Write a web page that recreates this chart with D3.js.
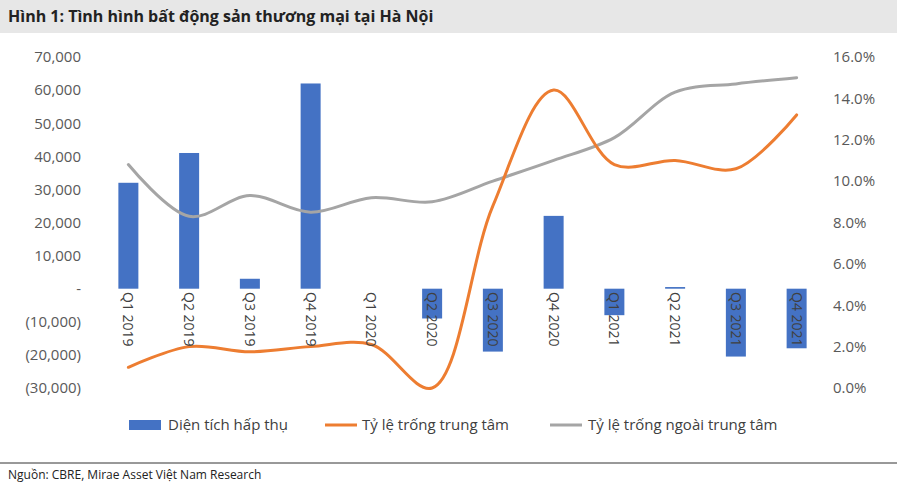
<!DOCTYPE html>
<html><head><meta charset="utf-8">
<script src="https://cdn.jsdelivr.net/npm/d3@7"></script>
<style>body{margin:0;background:#fff;font-family:"Open Sans",sans-serif}</style>
</head><body><svg id="c" width="897" height="487"></svg>
<script>
const categories=["Q1 2019","Q2 2019","Q3 2019","Q4 2019","Q1 2020","Q2 2020","Q3 2020","Q4 2020","Q1 2021","Q2 2021","Q3 2021","Q4 2021"];
const absorbed=[32000,41000,3000,62000,0,-9000,-19000,22000,-8000,500,-20500,-18000];
const centerVacancy=[1.0,2.0,1.75,2.0,2.1,0.0,8.8,14.4,10.8,11.0,10.6,13.2];
const outerVacancy=[10.8,8.3,9.3,8.5,9.2,9.0,10.0,11.0,12.1,14.3,14.7,15.0];
const leftTicks=[-30000,-20000,-10000,0,10000,20000,30000,40000,50000,60000,70000];
const rightTicks=[0,2,4,6,8,10,12,14,16];

const svg=d3.select("#c");
svg.append("rect").attr("x",0).attr("y",0).attr("width",897).attr("height",33).attr("fill","#e7e7e7");
svg.append("text").attr("x",8).attr("y",22).attr("font-size",16).attr("font-weight","bold").attr("fill","#222").text("Hình 1: Tình hình bất động sản thương mại tại Hà Nội");
svg.append("line").attr("x1",0).attr("x2",897).attr("y1",463).attr("y2",463).attr("stroke","#333").attr("stroke-width",1);
svg.append("text").attr("x",8).attr("y",479).attr("font-size",12).attr("fill","#222").text("Nguồn: CBRE, Mirae Asset Việt Nam Research");

const x=d3.scaleBand().domain(categories).range([98,827]);
const yL=d3.scaleLinear().domain([-30000,70000]).range([388,57]);
const yR=d3.scaleLinear().domain([0,16]).range([388,57]);
const fmt=v=>v===0?"-":v<0?"("+d3.format(",")(-v)+")":d3.format(",")(v);

svg.append("g").attr("transform","translate(84,0)").call(d3.axisLeft(yL).tickValues(leftTicks).tickFormat(fmt).tickSize(0))
 .call(g=>{g.select(".domain").remove();g.selectAll("text").attr("font-size",15).attr("fill","#595959").attr("font-family","Open Sans");});
svg.append("g").attr("transform","translate(830,0)").call(d3.axisRight(yR).tickValues(rightTicks).tickFormat(d=>d.toFixed(1)+"%").tickSize(0))
 .call(g=>{g.select(".domain").remove();g.selectAll("text").attr("font-size",15).attr("fill","#595959").attr("font-family","Open Sans");});

const bw=20;
svg.append("g").selectAll("rect").data(absorbed).join("rect")
 .attr("x",(d,i)=>x(categories[i])+x.bandwidth()/2-bw/2)
 .attr("y",d=>yL(Math.max(0,d))).attr("width",bw)
 .attr("height",d=>Math.abs(yL(d)-yL(0))).attr("fill","#4472c4");

const cx=i=>x(categories[i])+x.bandwidth()/2;
const mk=(data,color)=>svg.append("path").datum(data).attr("fill","none").attr("stroke",color).attr("stroke-width",3).attr("stroke-linecap","round")
 .attr("d",d3.line().x((d,i)=>cx(i)).y(d=>yR(d)).curve(d3.curveCatmullRom.alpha(0.5)));
mk(outerVacancy,"#a5a5a5");
mk(centerVacancy,"#ed7d31");

svg.append("g").selectAll("text").data(categories).join("text")
 .attr("transform",(d,i)=>`translate(${cx(i)-5},292) rotate(90)`)
 .attr("font-size",14).attr("fill","#404040").text(d=>d);

const lg=svg.append("g").attr("font-size",15).attr("fill","#404040");
lg.append("rect").attr("x",129).attr("y",420).attr("width",32).attr("height",10).attr("fill","#4472c4");
lg.append("text").attr("x",168).attr("y",430).text("Diện tích hấp thụ");
lg.append("line").attr("x1",325).attr("x2",357).attr("y1",425).attr("y2",425).attr("stroke","#ed7d31").attr("stroke-width",3);
lg.append("text").attr("x",362).attr("y",430).text("Tỷ lệ trống trung tâm");
lg.append("line").attr("x1",550).attr("x2",582).attr("y1",425).attr("y2",425).attr("stroke","#a5a5a5").attr("stroke-width",3);
lg.append("text").attr("x",588).attr("y",430).text("Tỷ lệ trống ngoài trung tâm");
</script></body></html>
